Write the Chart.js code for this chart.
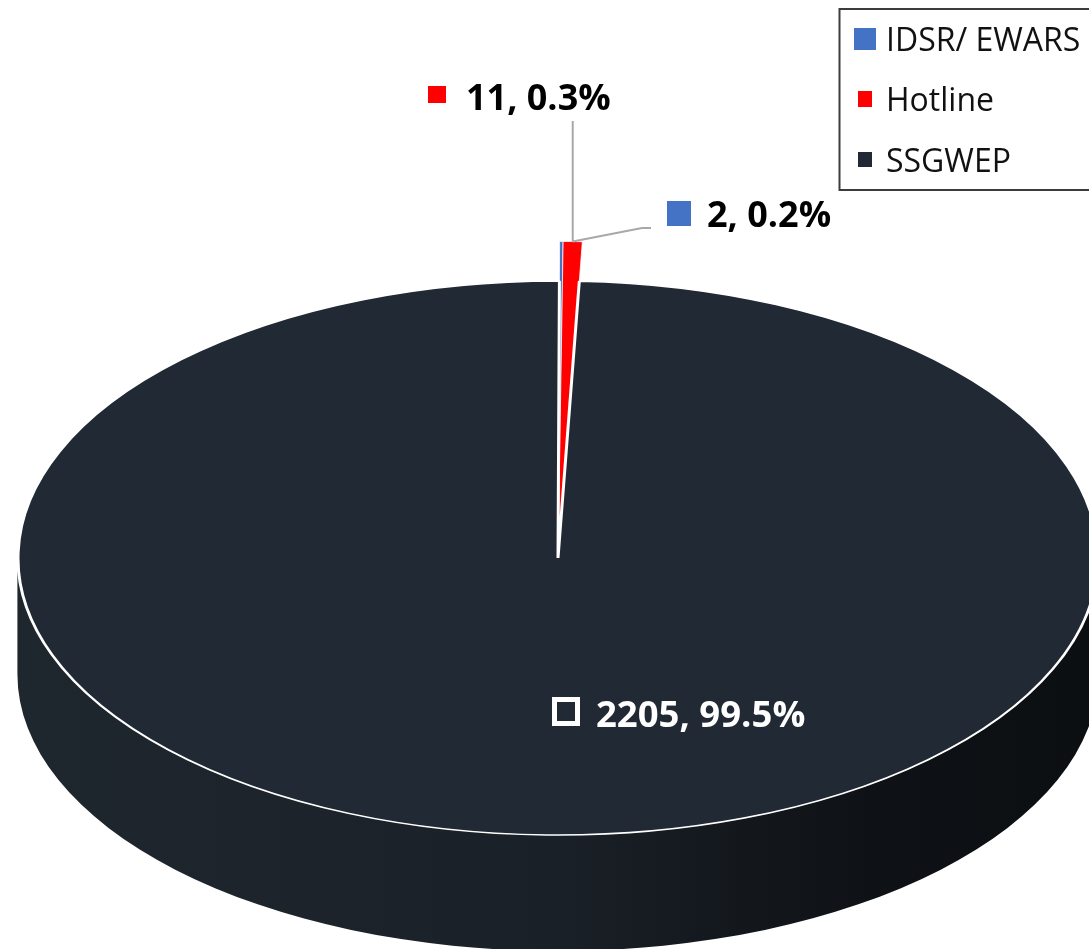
<!DOCTYPE html>
<html>
<head>
<meta charset="utf-8">
<style>html,body{margin:0;padding:0;background:#fff;overflow:hidden}canvas{display:block}</style>
<script src="https://cdn.jsdelivr.net/npm/chart.js@4"></script>
</head>
<body>
<canvas id="c" width="1089" height="949"></canvas>
<script>
const categories = ['IDSR/ EWARS', 'Hotline', 'SSGWEP'];
const values = [2, 11, 2205];
const shares = ['0.2%', '0.3%', '99.5%'];
const colors = ['#4472c4', '#ff0000', '#212934'];

const squash = 0.513, depth = 116, pieRadius = 540, liftedRadius = 617;
const labelFont = 'bold 36px "Open Sans"';
const insideFont = 'bold 36.5px "Open Sans"';
const legendFont = '32px "Open Sans"';

const pie3d = {
  id: 'pie3d',
  afterDatasetsUpdate(chart) {
    const arcs = chart.getDatasetMeta(0).data;
    arcs[0].outerRadius = liftedRadius;
    arcs[1].outerRadius = liftedRadius;
  },
  beforeDatasetsDraw(chart) {
    const ctx = chart.ctx, el = chart.getDatasetMeta(0).data[2];
    const cx = el.x, cy = el.y, rx = el.outerRadius, ry = rx * squash;
    const g = ctx.createLinearGradient(cx - rx, 0, cx + rx, 0);
    g.addColorStop(0, '#1f272e');
    g.addColorStop(0.5, '#1a2027');
    g.addColorStop(0.8, '#0e1115');
    g.addColorStop(1, '#0c0f12');
    ctx.save();
    ctx.fillStyle = g;
    ctx.beginPath();
    ctx.ellipse(cx, cy, rx + 0.6, ry, 0, Math.PI, 0, true);
    ctx.lineTo(cx + rx + 0.6, cy + depth);
    ctx.ellipse(cx, cy + depth, rx + 0.6, ry, 0, 0, Math.PI, false);
    ctx.closePath();
    ctx.fill();
    ctx.restore();
    ctx.save();
    ctx.translate(0, cy);
    ctx.scale(1, squash);
    ctx.translate(0, -cy);
  },
  afterDatasetsDraw(chart) {
    chart.ctx.restore();
  },
  afterDraw(chart) {
    const ctx = chart.ctx, arcs = chart.getDatasetMeta(0).data;
    ctx.save();
    // leader lines, anchored on the lifted wedge
    const a = arcs[1], mid = (a.startAngle + a.endAngle) / 2;
    const ax = a.x + a.outerRadius * Math.cos(mid);
    const ay = a.y + a.outerRadius * squash * Math.sin(mid);
    ctx.strokeStyle = '#a8a8a8';
    ctx.lineWidth = 2;
    ctx.beginPath();
    ctx.moveTo(ax, ay); ctx.lineTo(ax, 121);
    ctx.moveTo(ax, ay); ctx.lineTo(642, 228); ctx.lineTo(651, 228);
    ctx.stroke();
    // data labels
    ctx.textBaseline = 'alphabetic';
    ctx.font = labelFont;
    ctx.fillStyle = colors[1];
    ctx.fillRect(428, 86, 18, 17);
    ctx.fillStyle = colors[0];
    ctx.fillRect(667, 201, 24, 25);
    ctx.strokeStyle = '#fff';
    ctx.lineWidth = 5;
    ctx.strokeRect(554.5, 699.5, 23, 24);
    ctx.fillStyle = '#000';
    ctx.fillText(values[1] + ', ' + shares[1], 466, 110);
    ctx.fillText(values[0] + ', ' + shares[0], 707, 227);
    ctx.font = insideFont;
    ctx.fillStyle = '#fff';
    ctx.fillText(values[2] + ', ' + shares[2], 596, 727);
    // legend
    ctx.fillStyle = '#fff';
    ctx.fillRect(839, 9, 252, 181);
    ctx.strokeStyle = '#3c3c3c';
    ctx.lineWidth = 2;
    ctx.strokeRect(839.5, 9, 252, 181);
    ctx.fillStyle = colors[0]; ctx.fillRect(854, 28, 22, 22);
    ctx.fillStyle = colors[1]; ctx.fillRect(858, 91, 14, 16);
    ctx.fillStyle = colors[2]; ctx.fillRect(858, 152, 14, 15);
    ctx.font = legendFont;
    ctx.fillStyle = '#111';
    ctx.fillText(categories[0], 886, 51);
    ctx.fillText(categories[1], 886, 111);
    ctx.fillText(categories[2], 886, 172);
    ctx.restore();
  }
};

new Chart(document.getElementById('c'), {
  type: 'pie',
  data: {
    labels: categories,
    datasets: [{
      data: values,
      backgroundColor: colors,
      borderColor: '#ffffff',
      borderWidth: [1, 1, 3],
      clip: false
    }]
  },
  options: {
    responsive: false,
    animation: false,
    radius: pieRadius,
    rotation: 0.15,
    layout: { padding: { left: 27, top: 167, right: 0, bottom: 0 } },
    plugins: { legend: { display: false }, tooltip: { enabled: false } }
  },
  plugins: [pie3d]
});
</script>
</body>
</html>
